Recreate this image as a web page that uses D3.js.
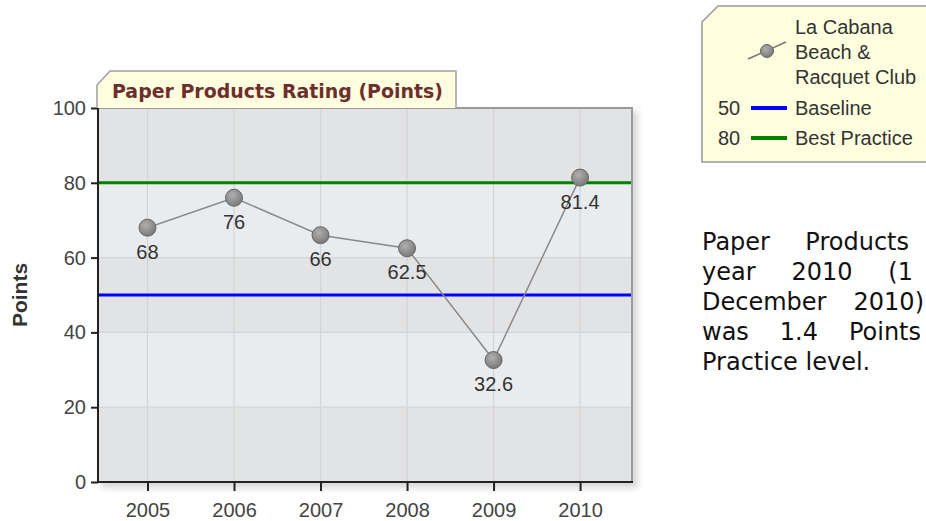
<!DOCTYPE html>
<html><head><meta charset="utf-8">
<script src="https://cdn.jsdelivr.net/npm/d3@7"></script>
<style>body{margin:0;background:#fff;overflow:hidden}svg{display:block}</style>
</head><body><svg id="c" width="926" height="521"></svg>
<script>
// ---- data ----
const years = [2005, 2006, 2007, 2008, 2009, 2010];
const ratings = [68, 76, 66, 62.5, 32.6, 81.4];
const yTicks = [0, 20, 40, 60, 80, 100];
const refLabels = ["Baseline", "Best Practice"];
const refValues = [50, 80];
const chartTitle = "Paper Products Rating (Points)";
const yAxisTitle = "Points";
const seriesNameLines = ["La Cabana", "Beach &", "Racquet Club"];
const paragraphLines = [["Paper", "Products"], ["year", "2010", "(1"], ["December", "2010)"], ["was", "1.4", "Points"], ["Practice level."]];

// ---- styles / layout ----
const refColors = ["#0000ff", "#008000"];
const svg = d3.select("#c");
const L = 98, R = 632, T = 108, B = 482;
const x = d3.scaleLinear().domain([2004.428, 2010.6]).range([L, R]);
const y = d3.scaleLinear().domain([0, 100]).range([B, T]);
const labelFont = "'Liberation Sans', Arial, sans-serif";

const defs = svg.append("defs");
const rg = defs.append("radialGradient").attr("id", "ball").attr("cx", "40%").attr("cy", "35%").attr("r", "65%");
rg.append("stop").attr("offset", "0%").attr("stop-color", "#b0b0b0");
rg.append("stop").attr("offset", "100%").attr("stop-color", "#7a7a7a");
const sh = defs.append("filter").attr("id", "shadow").attr("x", "-10%").attr("y", "-10%").attr("width", "120%").attr("height", "120%");
sh.append("feGaussianBlur").attr("stdDeviation", 3);

// shadow
svg.append("rect").attr("x", L + 3).attr("y", T + 3).attr("width", R - L + 3).attr("height", B - T + 3)
  .attr("fill", "#d8d8d8").attr("filter", "url(#shadow)");

// bands
const bandColors = ["#e2e3e5", "#e9ecef"];
svg.append("g").selectAll("rect").data(d3.pairs(yTicks)).join("rect")
  .attr("x", L).attr("width", R - L)
  .attr("y", d => y(d[1])).attr("height", d => y(d[0]) - y(d[1]))
  .attr("fill", (d, i) => bandColors[i % 2]);

// gridlines
svg.append("g").selectAll("line").data(years).join("line")
  .attr("x1", d => x(d)).attr("x2", d => x(d)).attr("y1", T).attr("y2", B)
  .attr("stroke", "#d4d4d4").attr("stroke-width", 1.2);
svg.append("g").selectAll("line").data(yTicks.slice(1, -1)).join("line")
  .attr("x1", L).attr("x2", R).attr("y1", d => y(d)).attr("y2", d => y(d))
  .attr("stroke", "#d4d4d4").attr("stroke-width", 1.2);

// reference lines
svg.append("g").selectAll("line").data(refValues).join("line")
  .attr("x1", L).attr("x2", R).attr("y1", d => y(d)).attr("y2", d => y(d))
  .attr("stroke", (d, i) => refColors[i]).attr("stroke-width", 3);

// frame
svg.append("path").attr("d", `M${L},${T}H${R}V${B}`).attr("fill", "none").attr("stroke", "#9a9a9a").attr("stroke-width", 2);
svg.append("path").attr("d", `M${L},${T}V${B}H${R + 1}`).attr("fill", "none").attr("stroke", "#222").attr("stroke-width", 2);

// axes
const ya = svg.append("g").attr("transform", `translate(${L},0)`)
  .call(d3.axisLeft(y).tickValues(yTicks).tickSize(7).tickPadding(5));
const xa = svg.append("g").attr("transform", `translate(0,${B})`)
  .call(d3.axisBottom(x).tickValues(years).tickFormat(d3.format("d")).tickSize(9).tickPadding(12));
[ya, xa].forEach(g => {
  g.select(".domain").remove();
  g.selectAll(".tick line").attr("stroke", "#222").attr("stroke-width", 2);
  g.selectAll("text").attr("font-family", labelFont).attr("font-size", 20).attr("fill", "#444");
});

// axis title
svg.append("text").attr("transform", "translate(20,295) rotate(-90)").attr("text-anchor", "middle")
  .attr("dy", "0.35em")
  .attr("font-family", labelFont).attr("font-weight", "bold").attr("font-size", 21).attr("fill", "#333")
  .text(yAxisTitle);

// series line
const pts = years.map((yr, i) => [yr, ratings[i]]);
svg.append("path").datum(pts)
  .attr("d", d3.line().x(d => x(d[0])).y(d => y(d[1])))
  .attr("fill", "none").attr("stroke", "#8a8a8a").attr("stroke-width", 1.5);
svg.append("g").selectAll("circle").data(pts).join("circle")
  .attr("cx", d => x(d[0])).attr("cy", d => y(d[1])).attr("r", 8.5)
  .attr("fill", "url(#ball)").attr("stroke", "#666").attr("stroke-width", 1);
svg.append("g").selectAll("text").data(pts).join("text")
  .attr("x", d => x(d[0])).attr("y", d => y(d[1]) + 31).attr("text-anchor", "middle")
  .attr("font-family", labelFont).attr("font-size", 20).attr("fill", "#333")
  .text(d => d3.format("")(d[1]));

// title tab
svg.append("path").attr("d", "M97,108V85L110,71H456V108")
  .attr("fill", "#ffffe0").attr("stroke", "#a0a0a0").attr("stroke-width", 1.5);
const tt = svg.append("text").attr("x", 112).attr("y", 98)
  .attr("font-family", "'DejaVu Sans', Verdana, sans-serif").attr("font-weight", "bold")
  .attr("font-size", 16).attr("fill", "#6e2e2e").text(chartTitle);
const tw = tt.node().getComputedTextLength();
tt.attr("font-size", 16 * 331 / tw);

// legend
svg.append("path").attr("d", "M702,22L718,6H940V162H702Z")
  .attr("fill", "#ffffe0").attr("stroke", "#999").attr("stroke-width", 1.5);
svg.append("line").attr("x1", 748).attr("y1", 59).attr("x2", 786).attr("y2", 42)
  .attr("stroke", "#777").attr("stroke-width", 1.5);
svg.append("circle").attr("cx", 767).attr("cy", 51).attr("r", 6.5)
  .attr("fill", "url(#ball)").attr("stroke", "#666");
svg.append("g").selectAll("text").data(seriesNameLines).join("text")
  .attr("x", 795).attr("y", (d, i) => 34 + i * 25)
  .attr("font-family", labelFont).attr("font-size", 20).attr("fill", "#333").text(d => d);
const lg = svg.append("g").selectAll("g").data(refLabels).join("g")
  .attr("transform", (d, i) => `translate(0,${108 + i * 30})`);
lg.append("text").attr("x", 718).attr("y", 7)
  .attr("font-family", labelFont).attr("font-size", 20).attr("fill", "#333").text((d, i) => refValues[i]);
lg.append("line").attr("x1", 751).attr("x2", 787).attr("stroke", (d, i) => refColors[i]).attr("stroke-width", 4);
lg.append("text").attr("x", 795).attr("y", 7)
  .attr("font-family", labelFont).attr("font-size", 20).attr("fill", "#333").text(d => d);

// paragraph (justified lines, clipped by window like the reference)
const lineRights = [909, 913, 924, 921];
const pg = svg.append("g").attr("font-family", "'DejaVu Sans', Verdana, sans-serif").attr("font-size", 24).attr("fill", "#111");
paragraphLines.forEach((words, li) => {
  const by = 250 + li * 30;
  const nodes = words.map(w => pg.append("text").attr("y", by).text(w));
  const widths = nodes.map(n => n.node().getComputedTextLength());
  const total = d3.sum(widths);
  const gap = (li < lineRights.length && words.length > 1) ? (lineRights[li] - 702 - total) / (words.length - 1) : 0;
  let cx = 702;
  nodes.forEach((n, i) => { n.attr("x", cx); cx += widths[i] + gap; });
});
</script></body></html>
